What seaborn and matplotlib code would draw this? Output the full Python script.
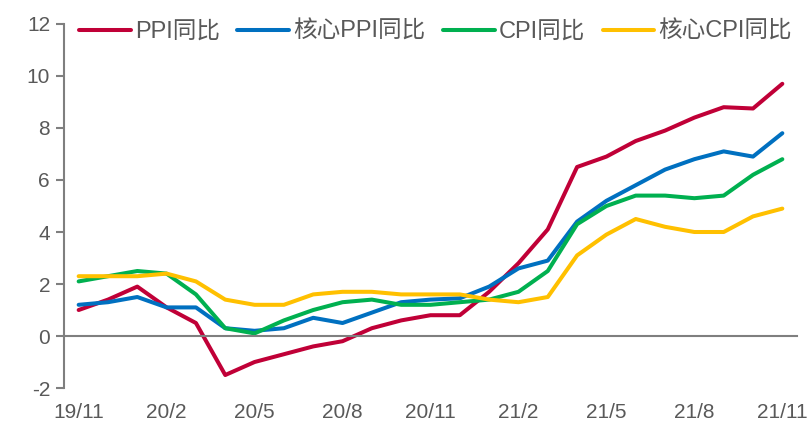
import numpy as np
import pandas as pd
import matplotlib
matplotlib.use("Agg")
import matplotlib.pyplot as plt
import seaborn as sns

# monthly data, 2019/11 - 2021/11
months = ["19/11", "19/12", "20/1", "20/2", "20/3", "20/4", "20/5", "20/6", "20/7",
          "20/8", "20/9", "20/10", "20/11", "20/12", "21/1", "21/2", "21/3", "21/4",
          "21/5", "21/6", "21/7", "21/8", "21/9", "21/10", "21/11"]
ppi = [1.0, 1.4, 1.9, 1.1, 0.5, -1.5, -1.0, -0.7, -0.4, -0.2, 0.3, 0.6, 0.8,
       0.8, 1.7, 2.8, 4.1, 6.5, 6.9, 7.5, 7.9, 8.4, 8.8, 8.75, 9.7]
core_ppi = [1.2, 1.3, 1.5, 1.1, 1.1, 0.3, 0.2, 0.3, 0.7, 0.5, 0.9, 1.3, 1.4,
            1.45, 1.9, 2.6, 2.9, 4.4, 5.2, 5.8, 6.4, 6.8, 7.1, 6.9, 7.8]
cpi = [2.1, 2.3, 2.5, 2.4, 1.6, 0.3, 0.1, 0.6, 1.0, 1.3, 1.4, 1.2, 1.2,
       1.3, 1.4, 1.7, 2.5, 4.3, 5.0, 5.4, 5.4, 5.3, 5.4, 6.2, 6.8]
core_cpi = [2.3, 2.3, 2.3, 2.4, 2.1, 1.4, 1.2, 1.2, 1.6, 1.7, 1.7, 1.6, 1.6,
            1.6, 1.4, 1.3, 1.5, 3.1, 3.9, 4.5, 4.2, 4.0, 4.0, 4.6, 4.9]

series_names = ["PPI同比", "核心PPI同比", "CPI同比", "核心CPI同比"]
colors = ["#C00037", "#0070C0", "#00B050", "#FFC000"]

df = pd.DataFrame({"idx": np.arange(len(months)),
                   series_names[0]: ppi, series_names[1]: core_ppi,
                   series_names[2]: cpi, series_names[3]: core_cpi})
long = df.melt(id_vars="idx", var_name="series", value_name="value")

sns.set_style("white")
plt.rcParams["font.family"] = ["Liberation Sans", "Noto Sans CJK SC", "DejaVu Sans"]

fig = plt.figure(figsize=(8.07, 4.23), dpi=100)
ax = fig.add_axes([0.0793, 0.0827, 0.9083, 0.8606])

sns.lineplot(data=long, x="idx", y="value", hue="series", hue_order=series_names,
             palette=colors, linewidth=2.9, ax=ax, legend=True)
for line in ax.lines:
    line.set_solid_joinstyle("round")
    line.set_solid_capstyle("round")

ax.set_xlim(-0.5, len(months) - 0.5)
ax.set_ylim(-2, 12)
ax.set_yticks(range(-2, 13, 2))
ax.set_yticklabels([str(v) for v in range(-2, 13, 2)])

gray = "#7F7F7F"
txt = "#595959"
ax.spines["top"].set_visible(False)
ax.spines["right"].set_visible(False)
ax.spines["left"].set_color(gray)
ax.spines["bottom"].set_color(gray)
ax.spines["left"].set_linewidth(1.5)
ax.spines["bottom"].set_linewidth(1.5)
ax.spines["bottom"].set_position(("data", 0))

# tick marks between categories, labels under the plot
ax.set_xticks(np.arange(2.5, len(months) - 0.5, 3))
ax.set_xticklabels([])
ax.tick_params(axis="x", which="major", direction="out", length=6, width=1.5, color=gray)
ax.set_xticks(np.arange(0, len(months), 3), minor=True)
ax.set_xticklabels(months[::3], minor=True)
ax.tick_params(axis="x", which="minor", length=0, pad=48, labelsize=15, labelcolor=txt)
ax.tick_params(axis="y", direction="out", length=6, width=1.5, color=gray,
               labelsize=15, labelcolor=txt, left=True, pad=4)
ax.set_xlabel("")
ax.set_ylabel("")

leg = ax.legend(loc="upper left", bbox_to_anchor=(0.008, 1.035), ncol=4, frameon=False,
                fontsize=17, handlelength=2.2, handletextpad=0.15, columnspacing=0.75,
                borderaxespad=0)
for t in leg.get_texts():
    t.set_color(txt)
for h in leg.get_lines():
    h.set_linewidth(2.9)

fig.savefig("out.png", dpi=100)
